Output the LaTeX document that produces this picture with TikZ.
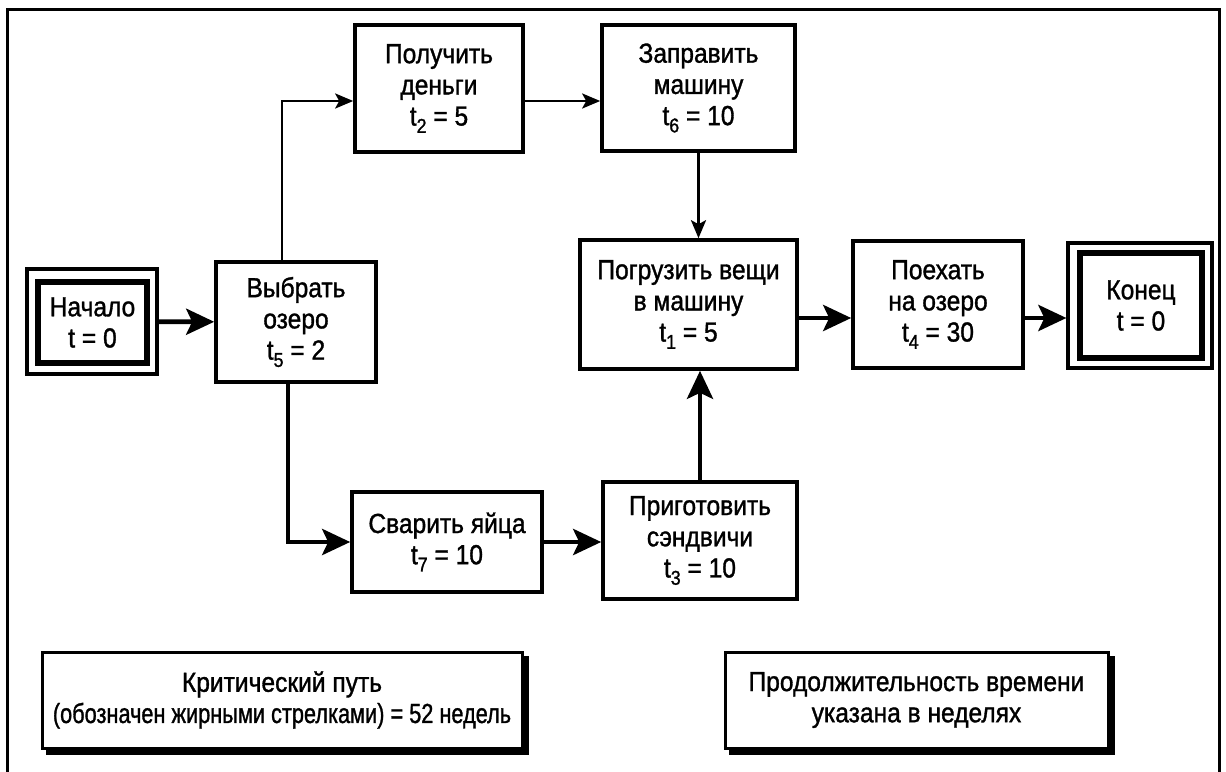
\documentclass[tikz,border=0pt]{standalone}
\usepackage{graphicx}
\usepackage{fontspec}
\setmainfont{Liberation Sans}[FakeStretch=0.89, FakeBold=1.2]
\usetikzlibrary{arrows.meta,backgrounds}
% lowered subscript set in the text font
\newcommand\tsub[1]{\raisebox{-0.5ex}{\fontsize{10}{10}\selectfont #1}}

\begin{document}
\begin{tikzpicture}[x=0.5pt,y=-0.5pt,
  font=\fontsize{13.8}{15.6}\selectfont,
  sz/.style 2 args={minimum width=#1*0.5pt, minimum height=#2*0.5pt},
  task/.style={draw, line width=1.8pt, fill=white, align=center, inner sep=0pt},
  outerbox/.style={draw, line width=1.6pt, inner sep=0pt},
  innerbox/.style={draw, line width=2.6pt, align=center, inner sep=0pt},
  note/.style={draw, line width=1.5pt, fill=white, align=center, inner sep=0pt},
  thinarrow/.style={line width=1.4pt, -{Stealth[length=9pt, width=7.5pt, inset=2pt]}},
  thickarrow/.style={line width=2.4pt, -{Stealth[length=14pt, width=13pt, inset=3pt]}}
]
\useasboundingbox (0,0) rectangle (1226,771);

% frame, open at the lower edge
\draw[line width=1.5pt] (7,775) -- (7,9) -- (1219,9) -- (1219,775);

% activities
\node[task, sz={168}{127}] (money) at (439,88.5) {Получить\\деньги\\t\tsub{2} = 5};
\node[task, sz={193}{126}] (fuel) at (698.5,88) {Заправить\\машину\\t\tsub{6} = 10};
\node[outerbox, sz={130}{105}] (start) at (92,321.5) {};
\node[innerbox, sz={109}{81}] (startin) at (92.5,322.5) {Начало\\t = 0};
\node[task, sz={160}{120}] (choose) at (296,322) {Выбрать\\озеро\\t\tsub{5} = 2};
\node[task, sz={217}{129}] (load) at (688.5,304.5) {Погрузить вещи\\в машину\\t\tsub{1} = 5};
\node[task, sz={170}{127}] (drive) at (938,304.5) {Поехать\\на озеро\\t\tsub{4} = 30};
\node[outerbox, sz={144}{125}] (finish) at (1140,305.5) {};
\node[innerbox, sz={122}{105}] (finishin) at (1141,305.5) {Конец\\t = 0};
\node[task, sz={190}{100}] (eggs) at (447,542) {Сварить яйца\\t\tsub{7} = 10};
\node[task, sz={194}{117}] (sand) at (700,540.5) {Приготовить\\сэндвичи\\t\tsub{3} = 10};

% notes with a solid offset shadow behind them
\node[note, sz={480}{96}] (crit) at (282,700)
  {Критический путь\\\scalebox{0.885}[1]{(обозначен жирными стрелками) = 52 недель}};
\node[note, sz={383}{96}] (units) at (916.5,700) {Продолжительность времени\\указана в неделях};
\begin{scope}[on background layer]
  \fill[black] ([shift={(5,5)}]crit.north west) rectangle ([shift={(5,5)}]crit.south east);
  \fill[black] ([shift={(5,5)}]units.north west) rectangle ([shift={(5,5)}]units.south east);
\end{scope}

% bend points and rows of the connectors
\coordinate (upbend) at (282,101);
\coordinate (downbend) at (288,542);
\coordinate (mainrow) at (0,318);

% connectors
\draw[thickarrow] (start) -- (choose);
\draw[thinarrow] (choose.north -| upbend) -- (upbend) -- (money.west |- upbend);
\draw[thinarrow] (money.east |- upbend) -- (fuel.west |- upbend);
\draw[thinarrow] (fuel.south) -- (load.north -| fuel.south);
\draw[thickarrow] (choose.south -| downbend) -- (downbend) -- (eggs.west |- downbend);
\draw[thickarrow] (eggs.east) -- (sand.west |- eggs.east);
\draw[thickarrow] (sand.north) -- (load.south -| sand.north);
\draw[thickarrow] (load.east |- mainrow) -- (drive.west |- mainrow);
\draw[thickarrow] (drive.east |- mainrow) -- (finish.west |- mainrow);
\end{tikzpicture}
\end{document}
